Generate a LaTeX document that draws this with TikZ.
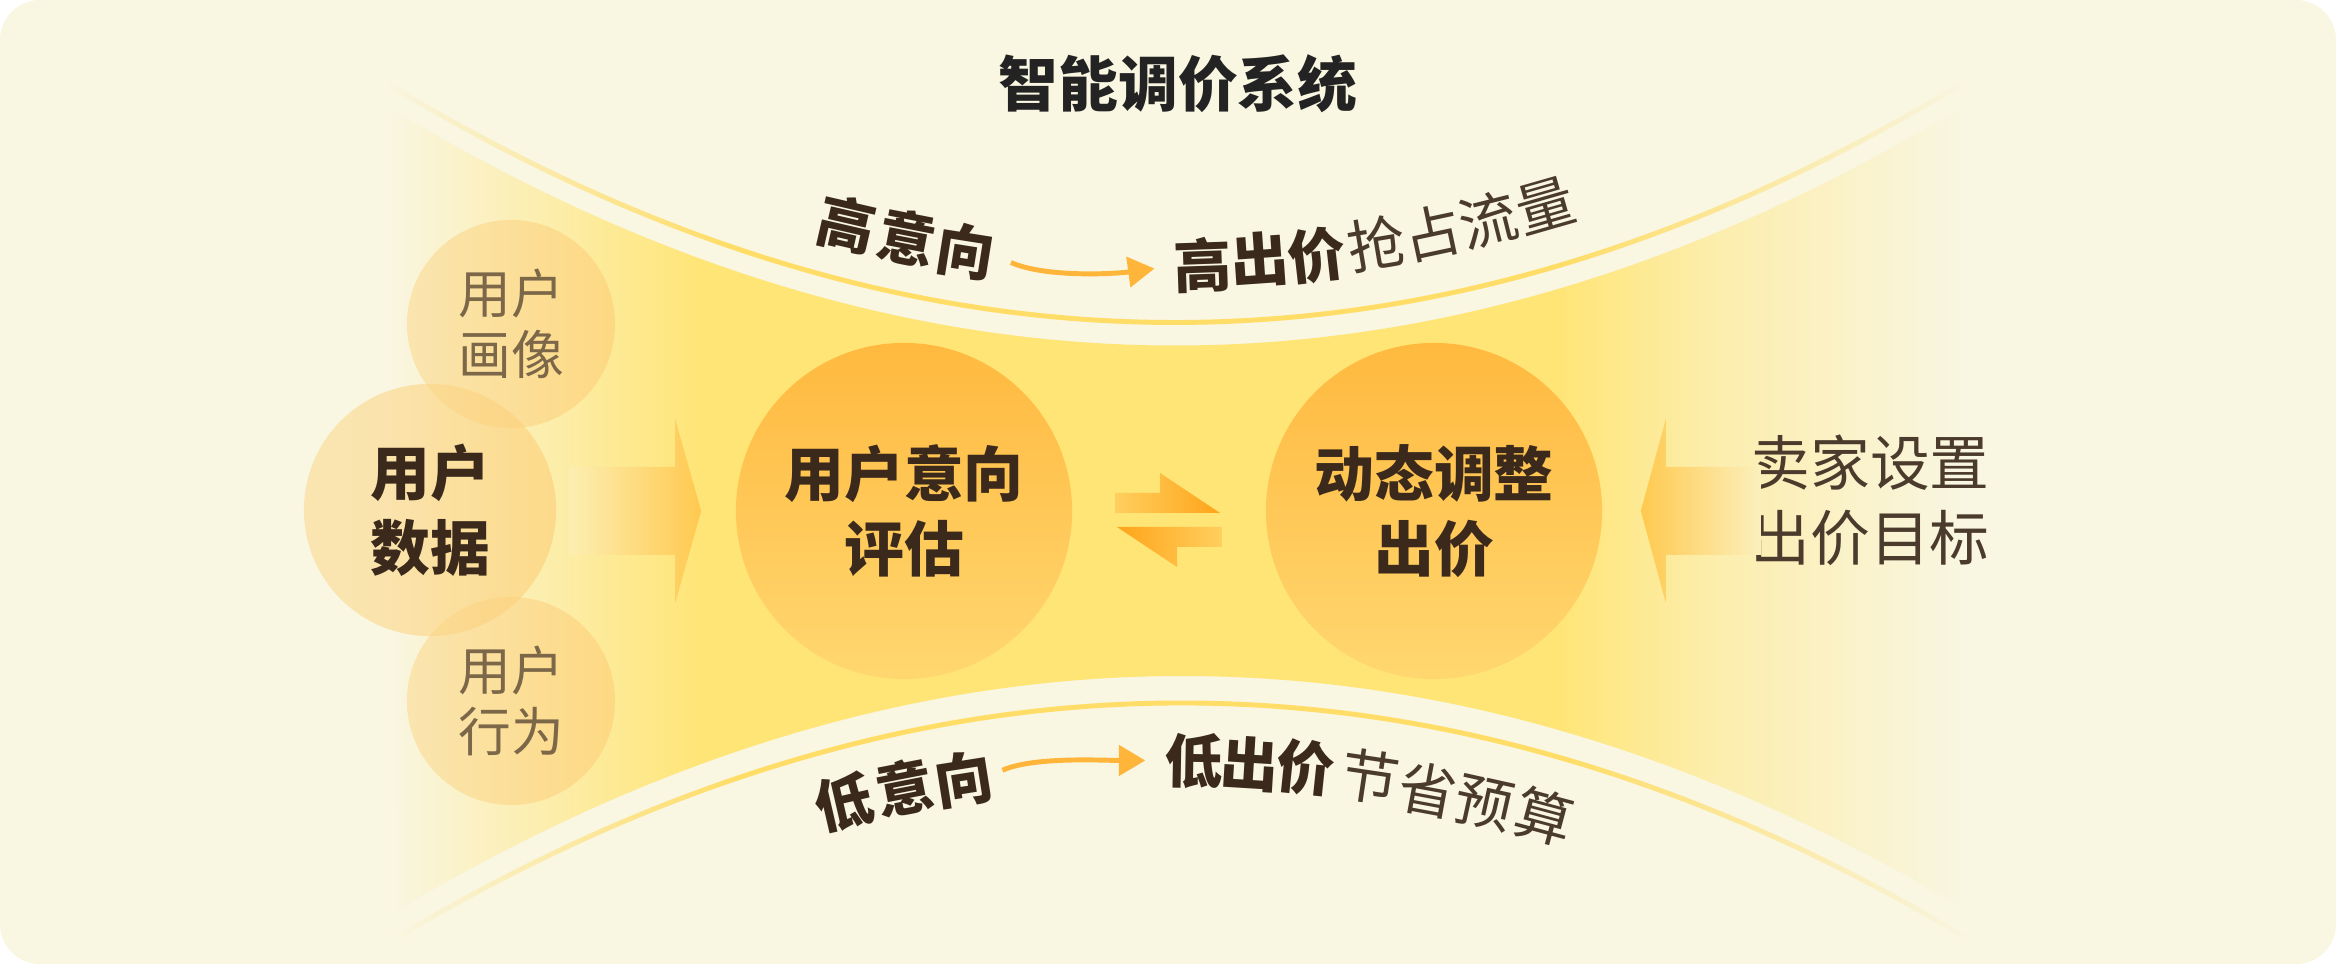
\documentclass[tikz,border=0pt]{standalone}
\usepackage{fontspec}
\setmainfont{Noto Sans CJK SC}
\usetikzlibrary{arrows.meta,fadings}

\definecolor{bgcream}{HTML}{F9F6E2}
\definecolor{bandyel}{HTML}{FFE576}
\definecolor{lineyel}{HTML}{FFDD66}
\definecolor{ballTop}{HTML}{FFB93F}
\definecolor{ballBot}{HTML}{FFD770}
\definecolor{bubbleL}{HTML}{FBDC95}
\definecolor{bubbleR}{HTML}{FDCF78}
\definecolor{arrowOr}{HTML}{FFC94F}
\definecolor{harpOr}{HTML}{FFA41A}
\definecolor{harpLt}{HTML}{FFCF5E}
\definecolor{inkDark}{HTML}{3B2A1C}
\definecolor{inkMid}{HTML}{4B3B2D}
\definecolor{inkSoft}{HTML}{7C6748}
\definecolor{inkTitle}{HTML}{232323}
\definecolor{curveArr}{HTML}{FFB43A}

% band: cream at both ends, yellow in the middle
\pgfdeclarehorizontalshading{bandshade}{100bp}{color(0bp)=(bgcream); color(25bp)=(bgcream); color(30bp)=(bandyel!50!bgcream); color(35bp)=(bandyel); color(62bp)=(bandyel); color(67bp)=(bandyel!50!bgcream); color(75bp)=(bgcream); color(100bp)=(bgcream)}
\pgfdeclarehorizontalshading{endsshade}{100bp}{color(0bp)=(black); color(25bp)=(black); color(36bp)=(white); color(62bp)=(white); color(75bp)=(black); color(100bp)=(black)}
\pgfdeclarefading{lineends}{\pgfuseshading{endsshade}}

\tikzset{
	bigball/.style={circle, minimum size=3.36cm, inner sep=0pt, top color=ballTop, bottom color=ballBot},
	bubble/.style={circle, inner sep=0pt, left color=bubbleL, right color=bubbleR, fill opacity=0.62, text opacity=1},
	titletext/.style={text=inkTitle, font=\bfseries\fontsize{17}{21}\selectfont},
	boldtext/.style={text=inkDark, align=center, font=\bfseries\fontsize{17}{21.3}\selectfont},
	softtext/.style={text=inkSoft, align=center, font=\fontsize{15}{17.4}\selectfont},
	plaintext/.style={text=inkMid, align=center, font=\fontsize{17}{21.3}\selectfont},
	curvebold/.style={inner sep=0pt, text=inkDark, font=\bfseries\fontsize{16.5}{18}\selectfont},
	curveplain/.style={inner sep=0pt, text=inkMid, font=\fontsize{16.5}{18}\selectfont},
	rimline/.style={draw=lineyel, line width=1.4pt, path fading=lineends},
	curvearrow/.style={draw=curveArr, line width=1.4pt, -{Triangle[length=7.5pt,width=8.5pt]}},
}

\begin{document}
\begin{tikzpicture}[x=0.01cm,y=-0.01cm]
	\useasboundingbox (0,0) rectangle (2336,964);
	\fill[white] (0,0) rectangle (2336,964);
	\fill[bgcream, rounded corners=0.4cm] (0,0) rectangle (2336,964);% card
	
	% yellow band between the two curves
	\shade[shading=bandshade] (388,107) .. controls (913,425) and (1437,425) .. (1962,107)
		-- (1966,910) .. controls (1443,598) and (921,598) .. (398,910) -- cycle;
	\draw[rimline] (388,84) .. controls (913,402) and (1437,402) .. (1962,84);
	\draw[rimline] (398,937) .. controls (921,625) and (1443,625) .. (1966,937);
	
	% user data bubbles
	\node[bubble, softtext, minimum size=2.08cm] (portrait) at (511,324) {用户\\画像};
	\node[bubble, softtext, minimum size=2.08cm] (behavior) at (511,701) {用户\\行为};
	\node[bubble, boldtext, minimum size=2.52cm] (userdata) at (430,510) {用户\\数据};
	
	\node[bigball, boldtext] (intent) at (904,511) {用户意向\\评估};
	\node[bigball, boldtext] (bid) at (1434,511) {动态调整\\出价};
	\node[plaintext] (seller) at (1870,500) {卖家设置\\出价目标};
	\node[titletext] (title) at (1178,84) {智能调价系统};
	
	% block arrows
	\shade[left color=bandyel!45!bgcream, right color=arrowOr] ([xshift=-0.34cm]intent.west)
		-- ++(-26,-92) -- ++(0,48) -- ++(-106,0) -- ++(0,88) -- ++(106,0) -- ++(0,48) -- cycle;
	\shade[left color=arrowOr, right color=bandyel!35!bgcream] ([xshift=0.38cm]bid.east)
		-- ++(25,-92) -- ++(0,48) -- ++(95,0) -- ++(0,88) -- ++(-95,0) -- ++(0,48) -- cycle;
	\shade[left color=harpLt, right color=harpOr] (1115,493) -- (1160,493) -- (1160,473) -- (1220,513) -- (1115,513) -- cycle;
	\shade[left color=harpOr, right color=harpLt] (1222,527) -- (1117,527) -- (1177,567) -- (1177,547) -- (1222,547) -- cycle;
	
	% texts along the upper curve
	\foreach \ch/\px/\py/\ang [count=\i] in {高/847/224/-13, 意/907/238/-11, 向/966/251/-9}
		\node[curvebold, rotate=\ang] (hi\i) at (\px,\py) {\ch};
	\foreach \ch/\px/\py/\ang [count=\i] in {高/1203/265/2, 出/1260/260/4, 价/1317/255/6.5}
		\node[curvebold, rotate=\ang] (hb\i) at (\px,\py) {\ch};
	\foreach \ch/\px/\py/\ang [count=\i from 4] in {抢/1376/244/9.5, 占/1432/233/12, 流/1488/220/14, 量/1545/206/16}
		\node[curveplain, rotate=\ang] (hb\i) at (\px,\py) {\ch};
	\draw[curvearrow, shorten <=0.17cm, shorten >=0.19cm] (hi3.east) .. controls +(50,22) and +(-60,8) .. (hb1.west);
	
	% texts along the lower curve
	\foreach \ch/\px/\py/\ang [count=\i] in {低/844/803/13, 意/905/788/11, 向/964/779/9}
		\node[curvebold, rotate=\ang] (lo\i) at (\px,\py) {\ch};
	\foreach \ch/\px/\py/\ang [count=\i] in {低/1194/761/-1, 出/1250/764/-3.5, 价/1306/768/-6}
		\node[curvebold, rotate=\ang] (lb\i) at (\px,\py) {\ch};
	\foreach \ch/\px/\py/\ang [count=\i from 4] in {节/1370/777/-8.5, 省/1428/790/-10.5, 预/1484/803/-12.5, 算/1544/817/-15}
		\node[curveplain, rotate=\ang] (lb\i) at (\px,\py) {\ch};
	\draw[curvearrow, shorten <=0.1cm, shorten >=0.19cm] (lo3.east) .. controls +(40,-18) and +(-60,0) .. (lb1.west);
\end{tikzpicture}
\end{document}
